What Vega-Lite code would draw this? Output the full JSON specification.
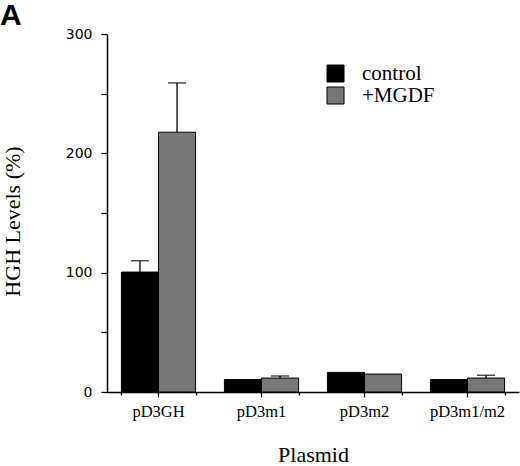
{
  "$schema": "https://vega.github.io/schema/vega-lite/v6.json",
  "width": 412,
  "height": 358,
  "autosize": "none",
  "padding": {"left": 107, "top": 34, "right": 1, "bottom": 74},
  "background": "white",
  "title": {"text": "A", "anchor": "start", "frame": "group", "dx": -107, "offset": -4, "font": "Liberation Sans", "fontSize": 30, "fontWeight": "bold", "color": "black"},
  "data": {"values": [
    {"Plasmid": "pD3GH", "Treatment": "control", "value": 100.5, "upper": 110},
    {"Plasmid": "pD3GH", "Treatment": "+MGDF", "value": 217.7, "upper": 259},
    {"Plasmid": "pD3m1", "Treatment": "control", "value": 10.4, "upper": null},
    {"Plasmid": "pD3m1", "Treatment": "+MGDF", "value": 11.7, "upper": 13.4},
    {"Plasmid": "pD3m2", "Treatment": "control", "value": 16.4, "upper": null},
    {"Plasmid": "pD3m2", "Treatment": "+MGDF", "value": 15, "upper": null},
    {"Plasmid": "pD3m1/m2", "Treatment": "control", "value": 10.4, "upper": null},
    {"Plasmid": "pD3m1/m2", "Treatment": "+MGDF", "value": 11.7, "upper": 14}
  ]},
  "resolve": {"axis": {"x": "independent"}},
  "layer": [
    {
      "mark": {"type": "bar", "stroke": "black", "strokeWidth": 1},
      "encoding": {
        "x": {"field": "Plasmid", "type": "nominal", "sort": ["pD3GH", "pD3m1", "pD3m2", "pD3m1/m2"],
              "scale": {"paddingInner": 0.28, "paddingOuter": 0.14},
              "axis": {"orient": "bottom", "title": "Plasmid", "labelAngle": 0, "tickSize": 5, "labelPadding": 6, "titlePadding": 25,
                       "labelFont": "Liberation Serif", "labelFontSize": 16.5, "titleFont": "Liberation Serif", "titleFontSize": 22, "titleFontWeight": "normal"}},
        "xOffset": {"field": "Treatment", "type": "nominal", "sort": ["control", "+MGDF"]},
        "y": {"field": "value", "type": "quantitative", "scale": {"domain": [0, 300]},
              "axis": {"title": "HGH Levels (%)", "values": [0, 50, 100, 150, 200, 250, 300],
                       "labelExpr": "datum.value % 100 === 0 ? datum.label : ''",
                       "tickSize": 6, "labelPadding": 9, "titlePadding": 41, "titleY": 187,
                       "labelFont": "DejaVu Sans", "labelFontSize": 14,
                       "titleFont": "Liberation Serif", "titleFontSize": 22, "titleFontWeight": "normal"}},
        "color": {"field": "Treatment", "type": "nominal",
                  "scale": {"domain": ["control", "+MGDF"], "range": ["#000000", "#777777"]},
                  "legend": {"title": null, "orient": "none", "legendX": 218, "legendY": 29, "padding": 0,
                             "symbolType": "square", "symbolSize": 289, "symbolStrokeColor": "black", "symbolStrokeWidth": 1,
                             "symbolOpacity": 1, "rowPadding": 0, "labelOffset": 16,
                             "labelFont": "Liberation Serif", "labelFontSize": 21, "labelColor": "black"}}
      }
    },
    {
      "transform": [{"filter": "datum.upper != null"}],
      "mark": {"type": "rule", "color": "black", "strokeWidth": 1.3},
      "encoding": {
        "x": {"field": "Plasmid", "type": "nominal", "sort": ["pD3GH", "pD3m1", "pD3m2", "pD3m1/m2"],
              "axis": {"orient": "bottom", "title": null, "labels": false, "domain": false, "tickBand": "extent", "tickSize": 3}},
        "xOffset": {"field": "Treatment", "type": "nominal", "sort": ["control", "+MGDF"]},
        "y": {"field": "value", "type": "quantitative"},
        "y2": {"field": "upper"}
      }
    },
    {
      "transform": [{"filter": "datum.upper != null"}],
      "mark": {"type": "tick", "color": "black", "thickness": 1.5, "size": 18, "orient": "horizontal"},
      "encoding": {
        "x": {"field": "Plasmid", "type": "nominal", "sort": ["pD3GH", "pD3m1", "pD3m2", "pD3m1/m2"], "axis": null},
        "xOffset": {"field": "Treatment", "type": "nominal", "sort": ["control", "+MGDF"]},
        "y": {"field": "upper", "type": "quantitative"}
      }
    }
  ],
  "config": {
    "view": {"stroke": null},
    "axis": {"domainColor": "black", "domainWidth": 1.5, "tickColor": "black", "tickWidth": 1.3, "grid": false, "labelColor": "black", "titleColor": "black"}
  }
}
